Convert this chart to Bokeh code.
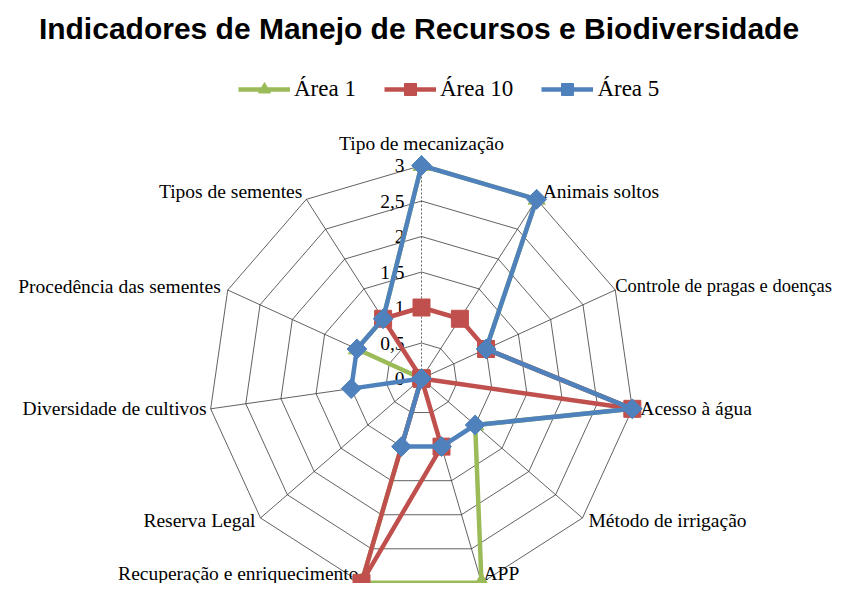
import numpy as np
from bokeh.plotting import figure
from bokeh.models import Range1d, Legend, LegendItem, Label
from bokeh.core.properties import value
from bokeh.embed import file_html
from bokeh.resources import INLINE

# ---- data ----
categories = ["Tipo de mecanização", "Animais soltos", "Controle de pragas e doenças",
              "Acesso à água", "Método de irrigação", "APP", "Recuperação e enriquecimento",
              "Reserva Legal", "Diversidade de cultivos", "Procedência das sementes",
              "Tipos de sementes"]
area1 = [3, 3, 1, 3, 1, 3, 3, 0, 0, 1, 1]
area10 = [1, 1, 1, 3, 0, 1, 3, 0, 0, 0, 1]
area5 = [3, 3, 1, 3, 1, 1, 1, 0, 1, 1, 1]
tick_values = [0, 0.5, 1, 1.5, 2, 2.5, 3]
tick_labels = ["0", "0,5", "1", "1,5", "2", "2,5", "3"]
title_text = "Indicadores de Manejo de Recursos e Biodiversidade"

# ---- layout ----
W, H = 841, 583
S = 71.0           # px per unit
CX, CY = 421, 378  # centre in figure px (from top-left)
RMAX = 3

p = figure(width=W, height=H, output_backend="svg", toolbar_location=None,
           x_range=Range1d(-CX / S, (W - CX) / S), y_range=Range1d(-(H - CY) / S, CY / S),
           min_border=0, outline_line_color=None)
p.axis.visible = False
p.grid.visible = False
p.background_fill_color = "white"

n = len(categories)
ang = np.arange(n) * 2 * np.pi / n

def pol(vals):
    v = np.asarray(vals, dtype=float)
    return v * np.sin(ang), v * np.cos(ang)

# grid rings
grid_col = "#2e2e2e"
for t in tick_values[1:]:
    xs, ys = pol([t] * n)
    p.line(list(xs) + [xs[0]], list(ys) + [ys[0]], line_color=grid_col, line_width=0.75)
# spokes
ox, oy = pol([RMAX] * n)
for i in range(n):
    p.line([0, ox[i]], [0, oy[i]], line_color=grid_col, line_width=0.75,
           line_dash="2 2" if i == 0 else "solid")

# tick labels
p.text(x=[0] * len(tick_values), y=tick_values, text=tick_labels,
       x_offset=-17, text_align="right", text_baseline="middle",
       text_font=value("Liberation Serif"), text_font_size="19.5px", text_color="black")

# category labels
lab_align = ["center", "left", "left", "left", "left", "left", "right", "right", "right", "right", "right"]
lab_dx = [0, 6, 0, 8, 6, 2, -3, -5, -4, -7, -4]
lab_dy = [-22, -8, -4, 0, 3, -9, -9, 3, 0, -4, -8]
lab_fs = ["19.5px", "19.5px", "18.5px", "19.5px", "19.5px", "19.5px", "19.5px",
          "19.5px", "19.5px", "19.5px", "19.5px"]
for i in range(n):
    p.text(x=[ox[i]], y=[oy[i]], text=[categories[i]], x_offset=lab_dx[i], y_offset=lab_dy[i],
           text_align=lab_align[i], text_baseline="middle",
           text_font=value("Liberation Serif"), text_font_size=lab_fs[i], text_color="black")

series = [("Área 1", area1, "#9BBB59", "triangle", 17, 0.0),
          ("Área 10", area10, "#C0504D", "square", 17, 0.0),
          ("Área 5", area5, "#4F81BD", "square", 14, np.pi / 4)]
items = []
for name, vals, col, mk, sz, a in series:
    xs, ys = pol(vals)
    ln = p.line(list(xs) + [xs[0]], list(ys) + [ys[0]], line_color=col, line_width=4.5,
                line_join="round")
    sc = p.scatter(xs, ys, marker=mk, size=sz, angle=a, fill_color=col, line_color=col)
    items.append(LegendItem(label=name, renderers=[ln, sc]))

legend = Legend(items=items, orientation="horizontal", location=(238, 479),
                glyph_width=52, glyph_height=30, label_height=30, label_standoff=4,
                spacing=28, padding=0, margin=0, border_line_alpha=0,
                background_fill_alpha=0, label_text_font="Liberation Serif",
                label_text_font_size="23px", label_text_color="black")
p.add_layout(legend, "center")

p.add_layout(Label(x=(418.5 - CX) / S, y=(CY - 28) / S, text=title_text,
                   text_align="center", text_baseline="middle",
                   text_font="Liberation Sans", text_font_style="bold",
                   text_font_size="30px", text_color="black"))

open("out.html", "w").write(file_html(p, INLINE))
